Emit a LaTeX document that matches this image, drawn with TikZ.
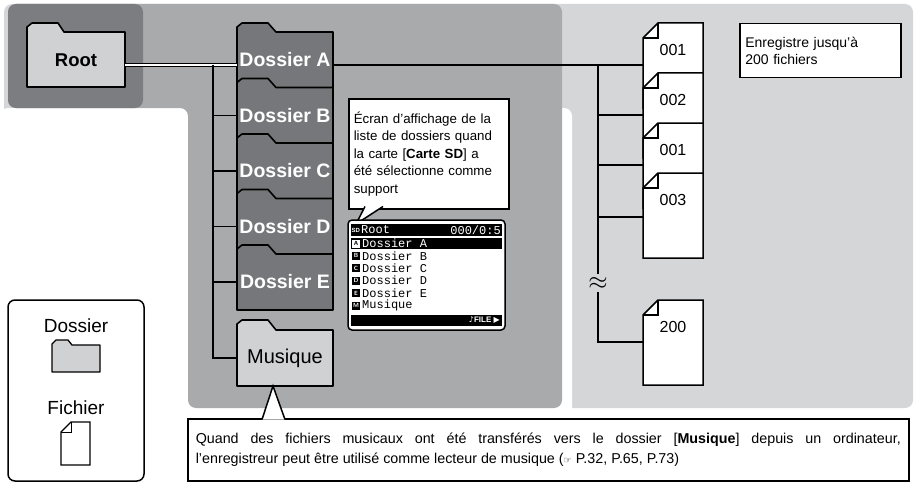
\documentclass[tikz,border=0pt]{standalone}
\usepackage{fontspec}
\setmainfont{Liberation Sans}
\setmonofont{Liberation Mono}
\newfontfamily\dingfont{DejaVu Sans}
\usetikzlibrary{positioning}

\definecolor{panelDark}{HTML}{7C7D80}
\definecolor{panelMid}{HTML}{A9AAAC}
\definecolor{panelLight}{HTML}{D5D6D8}
\definecolor{folderDark}{HTML}{76777A}
\definecolor{folderLight}{HTML}{D0D1D3}
\newcommand{\apos}{{\char"27}}

\tikzset{
  folder/.style={draw=black, line width=1.6pt, line join=round},
  flabel/.style={minimum width=96pt, minimum height=56pt, inner sep=0pt, font=\fontsize{19.5}{19.5}\selectfont\bfseries},
  file/.style={draw=black, line width=1.5pt, fill=white},
  fname/.style={minimum width=60pt, inner sep=0pt, font=\fontsize{16}{16}\selectfont},
  tree/.style={draw=black, line width=1.5pt},
  note/.style={draw=black, line width=1.5pt, fill=white},
  lcd/.style={font=\ttfamily\fontsize{12}{12}\selectfont, inner sep=0pt, anchor=west}
}

\begin{document}
\begin{tikzpicture}[x=1pt, y=-1pt]
    \useasboundingbox (0,0) rectangle (921,487);

    % Panels
    \fill[panelLight, rounded corners=8pt] (4,4) rectangle (913,408);
    \fill[white, rounded corners=8pt] (0,108) rectangle (572,487);
    \fill[panelMid, rounded corners=8pt] (8,4) -- (562,4) -- (562,408) -- (188,408) -- (188,108) -- (8,108) -- cycle;
    \fill[panelDark, rounded corners=8pt] (8,4) rectangle (143,108);

    % Root folder
    \draw[folder, fill=folderLight] (27,87) -- (27,27) -- (32,23) -- (58,23) -- (64,32) -- (125,32) -- (125,87) -- cycle;
    \node[flabel, minimum width=98pt, minimum height=55pt, font=\fontsize{18.5}{18.5}\selectfont\bfseries] (root) at (76,60) {Root};

    % Folders A to E
    \foreach \n [count=\i] in {A,B,C,D,E}{
      \pgfmathsetmacro{\t}{23+55.5*(\i-1)}
      \draw[folder, fill=folderDark] (237,\t+65) -- (237,\t+4) -- (242,\t) -- (268,\t) -- (276,\t+9) -- (333,\t+9) -- (333,\t+65) -- cycle;
      \node[flabel, text=white] (dos\n) at (285,\t+37) {Dossier \n};
    }
    % Musique folder
    \draw[folder, fill=folderLight] (237,386) -- (237,324) -- (242,320) -- (268,320) -- (276,330) -- (333,330) -- (333,386) -- cycle;
    \node[flabel, font=\fontsize{20}{20}\selectfont] (musique) at (285,358) {Musique};

    % Folder tree
    \coordinate (fork) at (213,65);
    \draw[black, line width=4pt] (root.east |- fork) -- (dosA.west |- fork);
    \draw[white, line width=1.4pt] (root.east |- fork) -- (dosA.west |- fork);
    \foreach \n in {B,C,D,E}
      \draw[tree] (fork) |- (dos\n.west);
    \draw[tree] (fork) |- (musique.west);

    % Files
    \foreach \n/\t/\lab in {f1/23/001, f2/73/002, f3/123/001, f4/173/003, f5/300/200}{
      \draw[file] (643,\t+15) -- (658,\t) -- (703,\t) -- (703,\t+85) -- (643,\t+85) -- cycle;
      \draw[line width=1.2pt] (643,\t+15) -- (658,\t+15) -- (658,\t);
      \node[fname, anchor=north] (\n) at (673,\t+21) {\lab};
    }

    % File tree
    \coordinate (ffork) at (598,65);
    \coordinate (fbot) at (598,342);
    \draw[tree] (dosA.east |- ffork) -- (643,65);
    \draw[tree] (ffork) -- (fbot) -- (643,342);
    \foreach \y in {115,165,217}
      \draw[tree] (598,\y) -- (643,\y);
    \fill[panelLight] (586,274) rectangle (610,292);
    \node[font=\fontsize{26}{26}\selectfont, inner sep=0pt] (gap) at (598,283) {$\approx$};

    % Note
    \node[note, anchor=north west, minimum width=161pt, minimum height=54pt, align=left, text width=150pt, inner sep=5pt, font=\fontsize{14}{17}\selectfont] (limit) at (739,23) {Enregistre jusqu\apos à\\200 fichiers};

    % Screen callout
    \node[note, anchor=north west, text width=150pt, minimum height=110pt, inner sep=5pt, align=left, font=\fontsize{13.3}{17.5}\selectfont] (ecran) at (348,98) {Écran d\apos affichage de la liste de dossiers quand la carte [\textbf{Carte SD}] a été sélectionne comme support};
    \draw[line width=1.5pt, fill=white] (365,206.5) -- (356,224) -- (383,206.5);

    % LCD screen
    \draw[line width=1.5pt, fill=white, rounded corners=4pt] (348,220) rectangle (505,330);
    \fill[black] (351,224) rectangle (502,236);
    \fill[black] (351,238) rectangle (502,249);
    \fill[black] (351,315) rectangle (502,326);
    \node[lcd, text=white] (lcdRoot) at (361,230) {Root};
    \node[lcd, text=white, font=\fontsize{6}{6}\selectfont\bfseries] at (351.5,230) {SD};
    \node[lcd, text=white, anchor=east] at (501,230) {000/0:5};
    \foreach \l/\txt [count=\i] in {A/Dossier A,B/Dossier B,C/Dossier C,D/Dossier D,E/Dossier E,M/Musique}{
      \pgfmathsetmacro{\y}{243.5+12.4*(\i-1)}
      \ifnum\i=1
        \fill[white] (352,\y-4) rectangle (360,\y+4);
        \node[lcd, text=black, font=\sffamily\bfseries\fontsize{6}{6}\selectfont, anchor=center] at (356,\y) {\l};
        \node[lcd, text=white] at (362,\y) {\txt};
      \else
        \fill[black] (352,\y-4) rectangle (360,\y+4);
        \node[lcd, text=white, font=\sffamily\bfseries\fontsize{6}{6}\selectfont, anchor=center] at (356,\y) {\l};
        \node[lcd, text=black] at (362,\y) {\txt};
      \fi
    }
    \node[lcd, text=white, anchor=east, font=\bfseries\fontsize{8}{8}\selectfont] at (500,320.5) {{\dingfont ♪}FILE {\dingfont ▶}};

    % Legend
    \draw[line width=1.5pt, rounded corners=7pt] (8,300) rectangle (144,481);
    \node[font=\fontsize{19}{19}\selectfont] (legDossier) at (76,326) {Dossier};
    \draw[folder, line width=1.3pt, fill=folderLight] (52,372) -- (52,344) -- (56,340) -- (68,340) -- (72,345) -- (100,345) -- (100,372) -- cycle;
    \node[font=\fontsize{19}{19}\selectfont] (legFichier) at (76,408) {Fichier};
    \draw[line width=1.3pt, fill=white] (61,432) -- (71,422) -- (90,422) -- (90,465) -- (61,465) -- cycle;
    \draw[line width=1pt] (61,432) -- (71,432) -- (71,422);

    % Musique callout
    \node[note, anchor=north west, minimum width=721pt, minimum height=62pt, text width=705pt, inner sep=8pt, align=justify, font=\fontsize{14.3}{20}\selectfont] (musNote) at (187,418) {Quand des fichiers musicaux ont été transférés vers le dossier [\textbf{Musique}] depuis un ordinateur,\linebreak l\apos enregistreur peut être utilisé comme lecteur de musique ({\dingfont\fontsize{9}{9}\selectfont ☞} P.32, P.65, P.73)};
    \draw[line width=1.5pt, fill=white] (262,419.5) -- (273,386) -- (285,419.5);
\end{tikzpicture}
\end{document}
